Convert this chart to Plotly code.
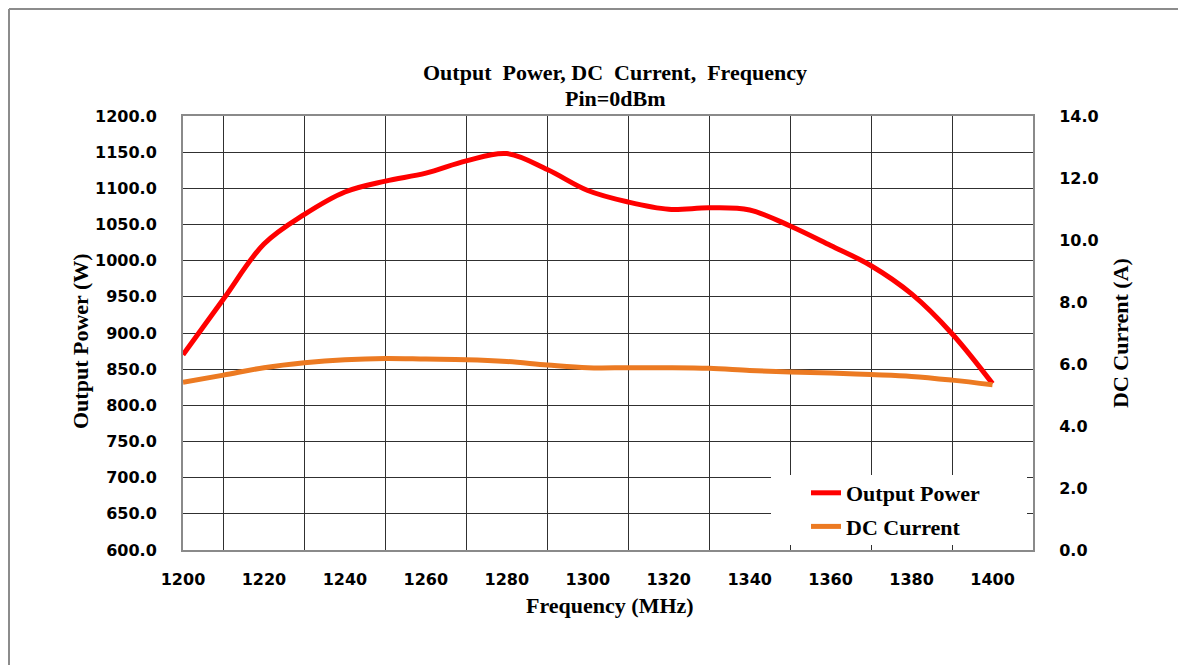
import plotly.graph_objects as go

freq = [1200, 1210, 1220, 1230, 1240, 1250, 1260, 1270, 1280, 1290, 1300,
        1310, 1320, 1330, 1340, 1350, 1360, 1370, 1380, 1390, 1400]
output_power = [870, 947, 1023, 1064, 1095, 1110, 1121, 1138, 1148, 1126, 1097,
                1081, 1071, 1073, 1070, 1048, 1021, 993, 954, 899, 830]
dc_current = [5.41, 5.64, 5.88, 6.04, 6.14, 6.18, 6.16, 6.14, 6.08, 5.97, 5.88,
              5.88, 5.88, 5.86, 5.79, 5.74, 5.71, 5.66, 5.60, 5.48, 5.33]

serif = "Liberation Serif"
sans = "DejaVu Sans"

# the page body has an 8px margin, so the figure is laid out 8px smaller
W, H = 1178, 657
L, T, R, B = 175, 108, 1025, 542


def px(fx):
    return (fx - L) / (R - L)


def py(fy):
    return (B - fy) / (B - T)


fig = go.Figure()

fig.add_trace(go.Scatter(
    x=freq, y=output_power, name="Output Power", mode="lines", legendgroup="a",
    line=dict(color="#ff0000", width=5, shape="spline", smoothing=1.0),
))
fig.add_trace(go.Scatter(
    x=freq, y=dc_current, name="DC Current", mode="lines", yaxis="y2", legendgroup="b",
    line=dict(color="#ec7a22", width=5, shape="spline", smoothing=1.0),
))

# left and top edge of the picture frame
fig.add_shape(type="line", xref="paper", yref="paper",
              x0=px(1), x1=px(1), y0=py(H), y1=py(1),
              line=dict(color="#8c8c8c", width=2))
fig.add_shape(type="line", xref="paper", yref="paper",
              x0=px(1), x1=px(W), y0=py(1), y1=py(1),
              line=dict(color="#8c8c8c", width=2))
# white legend box hiding the grid
fig.add_shape(type="rect", xref="paper", yref="paper", layer="above",
              x0=px(763), x1=px(1019), y0=py(537), y1=py(467),
              fillcolor="white", line=dict(width=0))

title_font = dict(family=serif, size=22, color="black")


def label(text, fx, fy, angle=0):
    fig.add_annotation(text=text, xref="paper", yref="paper",
                       x=px(fx), y=py(fy), xanchor="center", yanchor="middle",
                       textangle=angle, showarrow=False, font=title_font)


label("<b>Output  Power, DC  Current,  Frequency</b>", 607, 65)
label("<b>Pin=0dBm</b>", 607, 90)
label("<b>Output Power (W)</b>", 72, 333, -90)
label("<b>Frequency (MHz)</b>", 602, 597)
label("<b>DC Current (A)</b>", 1112, 325, -90)

tick_font = dict(family=sans, size=16, color="black", weight="bold")

fig.update_layout(
    width=W, height=H,
    margin=dict(l=L, r=W - R, t=T, b=H - B),
    paper_bgcolor="white", plot_bgcolor="white",
    xaxis=dict(
        range=[1200, 1410], dtick=20, tick0=1200,
        showgrid=False,
        minor=dict(dtick=10, tick0=1200, showgrid=True, gridcolor="#303030", gridwidth=1),
        showline=True, linecolor="#8a8a8a", linewidth=2, mirror=True,
        ticks="outside", ticklen=14, tickcolor="rgba(0,0,0,0)",
        tickfont=tick_font, zeroline=False,
    ),
    yaxis=dict(
        range=[600, 1200], dtick=50, tickformat=".1f",
        showgrid=True, gridcolor="#303030", gridwidth=1,
        showline=True, linecolor="#8a8a8a", linewidth=2, mirror=True,
        ticks="outside", ticklen=21, tickcolor="rgba(0,0,0,0)",
        tickfont=tick_font, zeroline=False,
    ),
    yaxis2=dict(
        range=[0, 14], dtick=2, tickformat=".1f",
        overlaying="y", side="right", showgrid=False,
        ticks="outside", ticklen=22, tickcolor="rgba(0,0,0,0)",
        tickfont=tick_font, zeroline=False,
    ),
    legend=dict(
        x=px(798), y=py(464), xanchor="left", yanchor="top",
        bgcolor="rgba(0,0,0,0)", borderwidth=0,
        font=dict(family=serif, size=22, color="black", weight="bold"),
        tracegroupgap=2,
    ),
    showlegend=True,
)

fig.write_html("out.html")
